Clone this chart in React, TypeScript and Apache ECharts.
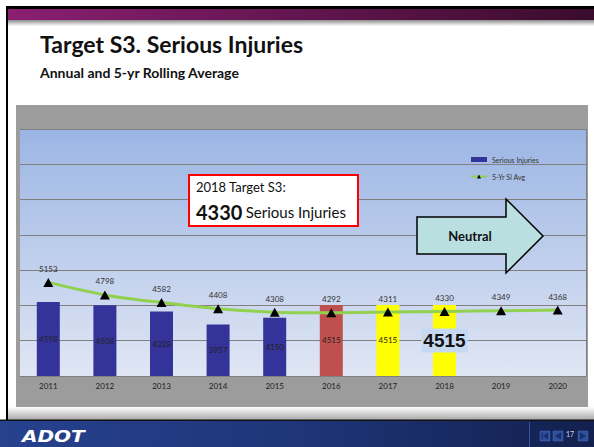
import React, { useEffect, useRef } from "react";
import * as echarts from "echarts";

const categories = ["2011", "2012", "2013", "2014", "2015", "2016", "2017", "2018", "2019", "2020"];
const seriousInjuries = [4598, 4508, 4328, 3957, 4150, 4515, 4515, 4515, null, null];
const rollingAverage = [5153, 4798, 4582, 4408, 4308, 4292, 4311, 4330, 4349, 4368];
const yTicks = { min: 2500, max: 9500, interval: 1000 };
const titleText = "Target S3. Serious Injuries";
const subtitleText = "Annual and 5-yr Rolling Average";
const targetYear = "2018";
const targetValue = 4330;
const trendText = "Neutral";
const pageNumber = "17";

const FONT = "Lato, 'Open Sans', sans-serif";

function barColor(year: string): string {
  if (year === "2016") return "#C0504D";
  if (year === "2017" || year === "2018") return "#FFFF00";
  return "#333399";
}

export default function App() {
  const ref = useRef<HTMLDivElement>(null);
  useEffect(() => {
    if (!ref.current) return;
    const chart = echarts.init(ref.current, undefined, { renderer: "svg" });
    const barData = seriousInjuries.map((v, i) => {
      const year = categories[i];
      const item: any = { value: v, itemStyle: { color: barColor(year) } };
      if (year === targetYear) {
        item.label = {
          show: true,
          position: "inside",
          formatter: "{big|{c}}",
          rich: {
            big: {
              fontSize: 19,
              fontWeight: "bold",
              fontFamily: "'Liberation Sans', Arial, sans-serif",
              color: "#111",
              backgroundColor: "#C6D9F1",
              padding: [3, 2, 2, 2],
              lineHeight: 19,
            },
          },
        };
      }
      return item;
    });

    const option: any = {
      animation: false,
      backgroundColor: "#FFFFFF",
      textStyle: { fontFamily: FONT },
      grid: {
        left: 20,
        right: 8,
        top: 129,
        bottom: 71,
        show: true,
        borderWidth: 0,
        backgroundColor: new echarts.graphic.LinearGradient(0, 0, 0, 1, [
          { offset: 0, color: "#9BB5E4" },
          { offset: 1, color: "#E0E6F4" },
        ]),
      },
      legend: {
        orient: "vertical",
        left: 465,
        top: 151,
        itemWidth: 16,
        itemHeight: 5,
        itemGap: 10,
        textStyle: { fontSize: 7, color: "#333", fontFamily: FONT },
        data: [
          { name: "Serious Injuries", icon: "rect" },
          { name: "5-Yr SI Avg" },
        ],
      },
      xAxis: {
        type: "category",
        data: categories,
        axisLine: { show: true, lineStyle: { color: "#808080", width: 1 } },
        axisTick: { show: false },
        axisLabel: { fontSize: 8, color: "#222", margin: 6, fontFamily: FONT },
      },
      yAxis: {
        type: "value",
        min: yTicks.min,
        max: yTicks.max,
        interval: yTicks.interval,
        axisLabel: { show: false },
        axisLine: { show: false },
        axisTick: { show: false },
        splitLine: { show: true, lineStyle: { color: "#808080", width: 1 } },
      },
      series: [
        {
          name: "Serious Injuries",
          type: "bar",
          barWidth: 23,
          itemStyle: { color: "#333399" },
          label: {
            show: true,
            position: "inside",
            fontSize: 8,
            color: "#222",
            fontFamily: FONT,
          },
          data: barData,
          z: 2,
        },
        {
          name: "5-Yr SI Avg",
          type: "line",
          data: rollingAverage,
          smooth: 0.3,
          symbol: "triangle",
          symbolSize: [10, 9],
          itemStyle: { color: "#000000" },
          lineStyle: { color: "#92D050", width: 3 },
          label: {
            show: true,
            position: "top",
            distance: 5,
            fontSize: 8,
            color: "#333",
            fontFamily: FONT,
          },
          z: 3,
        },
      ],
      graphic: [
        // slide frame
        { type: "rect", z: -20, shape: { x: 6, y: 6, width: 588, height: 3 }, style: { fill: "#000" } },
        { type: "rect", z: -20, shape: { x: 6, y: 6, width: 2, height: 415 }, style: { fill: "#000" } },
        {
          type: "rect", z: -19,
          shape: { x: 8, y: 9, width: 586, height: 11 },
          style: {
            fill: new echarts.graphic.LinearGradient(0, 0, 1, 0, [
              { offset: 0, color: "#8A1F72" },
              { offset: 1, color: "#3A0C2C" },
            ]),
          },
        },
        {
          type: "rect", z: -19,
          shape: { x: 8, y: 20, width: 586, height: 6 },
          style: {
            fill: new echarts.graphic.LinearGradient(0, 0, 0, 1, [
              { offset: 0, color: "#8C8C8C" },
              { offset: 1, color: "#FFFFFF" },
            ]),
          },
        },
        // title
        {
          type: "text", z: 10, x: 40, y: 44,
          style: { text: titleText, fontSize: 23, fontWeight: "bold", fill: "#111", fontFamily: FONT, verticalAlign: "middle" },
        },
        {
          type: "text", z: 10, x: 40, y: 72,
          style: { text: subtitleText, fontSize: 14, fontWeight: "bold", fill: "#111", fontFamily: FONT, verticalAlign: "middle" },
        },
        // gray chart box
        { type: "rect", z: -15, shape: { x: 16, y: 105, width: 572, height: 302 }, style: { fill: "#9C9C9C" } },
        { type: "line", z: 5, shape: { x1: 586.5, y1: 129, x2: 586.5, y2: 376 }, style: { stroke: "#808080", lineWidth: 1 } },
        // target box
        {
          type: "rect", z: 20,
          shape: { x: 189, y: 175, width: 169, height: 51 },
          style: { fill: "#FFFFFF", stroke: "#FF0000", lineWidth: 2 },
        },
        {
          type: "text", z: 21, x: 196, y: 187,
          style: { text: targetYear + " Target S3:", fontSize: 13, fill: "#111", fontFamily: FONT, verticalAlign: "middle" },
        },
        {
          type: "text", z: 21, x: 196, y: 212,
          style: {
            text: "{b|" + targetValue + "} {n|Serious Injuries}",
            verticalAlign: "middle",
            rich: {
              b: { fontSize: 20, fontWeight: "bold", fill: "#111", fontFamily: FONT },
              n: { fontSize: 15, fill: "#111", fontFamily: FONT },
            },
          },
        },
        // neutral arrow
        {
          type: "polygon", z: 20,
          shape: { points: [[417, 217], [506, 217], [506, 199], [543, 236], [506, 273], [506, 254], [417, 254]] },
          style: { fill: "#B9DFE1", stroke: "#000", lineWidth: 1.5 },
        },
        {
          type: "text", z: 21, x: 470, y: 236,
          style: { text: trendText, fontSize: 13, fontWeight: "bold", fill: "#111", fontFamily: FONT, align: "center", verticalAlign: "middle" },
        },
        // footer
        {
          type: "rect", z: -19,
          shape: { x: 8, y: 407, width: 586, height: 13 },
          style: {
            fill: new echarts.graphic.LinearGradient(0, 0, 0, 1, [
              { offset: 0, color: "#FFFFFF" },
              { offset: 1, color: "#A8A8A8" },
            ]),
          },
        },
        { type: "rect", z: -19, shape: { x: 0, y: 419.5, width: 594, height: 1.5 }, style: { fill: "#111" } },
        {
          type: "rect", z: -19,
          shape: { x: 0, y: 421, width: 594, height: 26 },
          style: {
            fill: new echarts.graphic.LinearGradient(0, 0, 1, 0, [
              { offset: 0, color: "#26418E" },
              { offset: 0.5, color: "#1E3578" },
              { offset: 1, color: "#13204E" },
            ]),
          },
        },
        {
          type: "text", z: 10, x: 22, y: 436, scaleX: 1.25,
          style: { text: "ADOT", fontSize: 16, fontWeight: "bold", fontStyle: "italic", fill: "#FFFFFF", fontFamily: "'DejaVu Sans', sans-serif", verticalAlign: "middle" },
        },
        { type: "line", z: 10, shape: { x1: 529.5, y1: 422, x2: 529.5, y2: 447 }, style: { stroke: "#3A5296", lineWidth: 1 } },
        { type: "rect", z: 10, shape: { x: 540, y: 431, width: 10, height: 10 }, style: { fill: "#2E4E9E", stroke: "#4A68B4", lineWidth: 0.5 } },
        { type: "polygon", z: 11, shape: { points: [[548, 432.5], [548, 439.5], [543, 436]] }, style: { fill: "#1A2E6A" } },
        { type: "rect", z: 11, shape: { x: 541.5, y: 432.5, width: 1.2, height: 7 }, style: { fill: "#1A2E6A" } },
        { type: "rect", z: 10, shape: { x: 553, y: 431, width: 10, height: 10 }, style: { fill: "#2E4E9E", stroke: "#4A68B4", lineWidth: 0.5 } },
        { type: "polygon", z: 11, shape: { points: [[561, 432.5], [561, 439.5], [555, 436]] }, style: { fill: "#1A2E6A" } },
        {
          type: "text", z: 10, x: 570, y: 434,
          style: { text: pageNumber, fontSize: 7, fill: "#C8D2E8", fontFamily: FONT, align: "center", verticalAlign: "middle" },
        },
        { type: "rect", z: 10, shape: { x: 578, y: 431, width: 10, height: 10 }, style: { fill: "#2E4E9E", stroke: "#4A68B4", lineWidth: 0.5 } },
        { type: "polygon", z: 11, shape: { points: [[580, 432.5], [580, 439.5], [586, 436]] }, style: { fill: "#1A2E6A" } },
      ],
    };
    chart.setOption(option);
    return () => chart.dispose();
  }, []);
  return (
    <div
      ref={ref}
      style={{ position: "fixed", left: 0, top: 0, width: 594, height: 447 }}
    />
  );
}
